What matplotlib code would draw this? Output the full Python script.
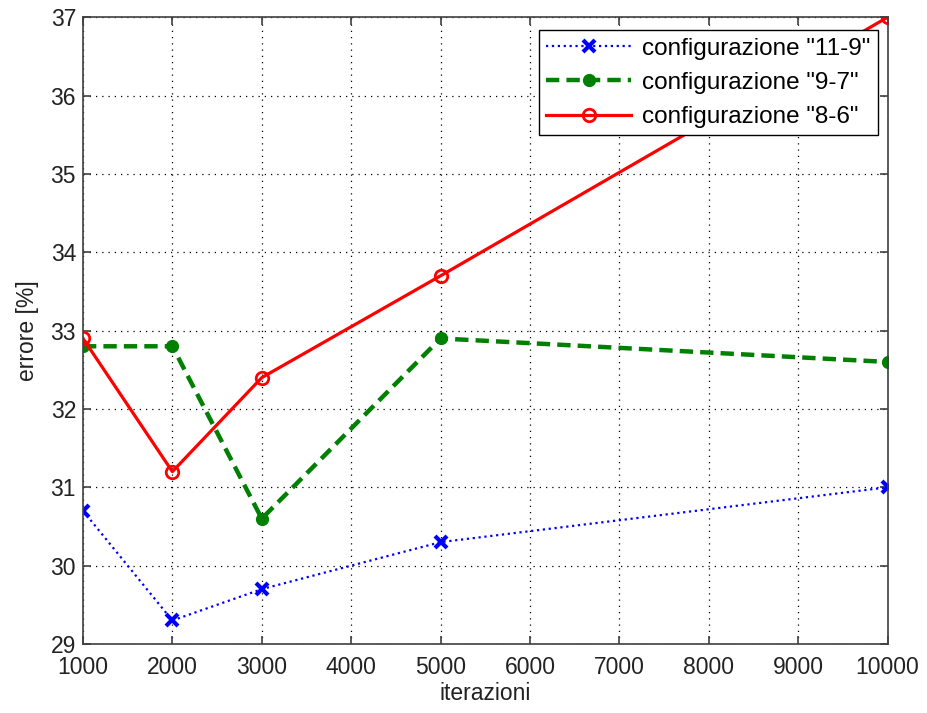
import matplotlib
matplotlib.use('Agg')
import matplotlib.pyplot as plt

plt.rcParams['font.family'] = ['Liberation Sans', 'DejaVu Sans']

# Data
iterazioni = [1000, 2000, 3000, 5000, 10000]
err_11_9 = [30.7, 29.3, 29.7, 30.3, 31.0]
err_9_7 = [32.8, 32.8, 30.6, 32.9, 32.6]
err_8_6 = [32.9, 31.2, 32.4, 33.7, 37.0]
labels = ['configurazione "11-9"', 'configurazione "9-7"', 'configurazione "8-6"']
xticks = list(range(1000, 10001, 1000))
yticks = list(range(29, 38))

fig = plt.figure(figsize=(9.27, 7.13), dpi=100)
ax = fig.add_axes([0.0895, 0.0968, 0.868, 0.879])

ax.plot(iterazioni, err_11_9, color='blue', linestyle=':', linewidth=1.6,
        marker='x', markersize=9, markeredgewidth=3, label=labels[0])
ax.plot(iterazioni, err_9_7, color='green', linestyle=(0, (3, 1.6)), linewidth=3.2,
        marker='o', markersize=8.5, label=labels[1])
ax.plot(iterazioni, err_8_6, color='red', linestyle='-', linewidth=2.3,
        marker='o', markersize=9, markerfacecolor='none', markeredgewidth=2, label=labels[2])

ax.set_xlim(1000, 10000)
ax.set_ylim(29, 37)
ax.set_xticks(xticks)
ax.set_yticks(yticks)
ax.grid(True, color='black', linestyle=(0, (1, 4)), linewidth=0.9)
ax.tick_params(direction='in', top=True, right=True, length=6, width=1.2,
               color='#404040', labelsize=16.5, labelcolor='#222222')
ax.tick_params(axis='x', pad=9)
ax.tick_params(axis='y', pad=5)
for s in ax.spines.values():
    s.set_color('#404040')
    s.set_linewidth(1.2)

ax.set_xlabel('iterazioni', fontsize=16.5, color='#222222', labelpad=2)
ax.set_ylabel('errore [%]', fontsize=16.5, color='#222222', labelpad=8)

leg = ax.legend(loc='upper right', bbox_to_anchor=(0.988, 0.979), fontsize=17.5,
                fancybox=False, edgecolor='black', framealpha=1, handlelength=3.5,
                borderpad=0.3, labelspacing=0.5, handletextpad=0.45, borderaxespad=0)
leg.get_frame().set_linewidth(1.0)

fig.savefig('out.png', dpi=100)
